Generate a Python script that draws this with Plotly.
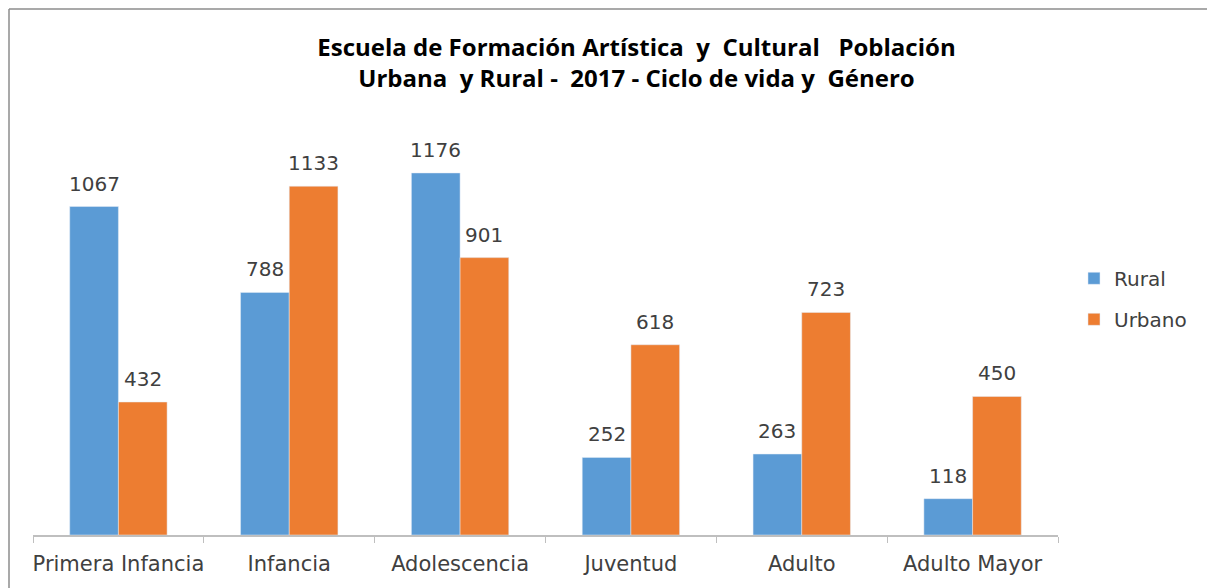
import plotly.graph_objects as go

# data
categorias = ["Primera Infancia", "Infancia", "Adolescencia", "Juventud", "Adulto", "Adulto Mayor"]
rural = [1067, 788, 1176, 252, 263, 118]
urbano = [432, 1133, 901, 618, 723, 450]

AZUL = "#5B9BD5"
NARANJA = "#ED7D31"
TXT = "#404040"
FONT = "DejaVu Sans"

# the page body has an 8px margin, so the figure is a bit smaller than the window
W, H = 1207, 580
ML, MR, MT, MB = 25, 157, 96, 53
BARGAP = 0.43

fig = go.Figure()
fig.add_trace(go.Bar(x=categorias, y=rural, name="Rural", marker_color=AZUL, legendgroup="r"))
fig.add_trace(go.Bar(x=categorias, y=urbano, name="Urbano", marker_color=NARANJA, legendgroup="u"))

# value labels above the bars (a bit higher than plotly's own "outside" text)
ancho_cat = (W - ML - MR) / len(categorias)
medio_bar = ancho_cat * (1 - BARGAP) / 4
for serie, signo in ((rural, -1), (urbano, 1)):
    for cat, v in zip(categorias, serie):
        fig.add_annotation(x=cat, y=v, text=str(v), showarrow=False,
                           xshift=signo * medio_bar, yshift=9, yanchor="bottom",
                           font=dict(size=20, color=TXT, family=FONT))

titulo = ("Escuela de Formación Artística\u00a0 y\u00a0 Cultural\u00a0\u00a0 Población<br>"
          "Urbana\u00a0 y Rural -\u00a0 2017 - Ciclo de vida y\u00a0 Género")

fig.update_layout(
    width=W, height=H,
    margin=dict(l=ML, r=MR, t=MT, b=MB, autoexpand=False),
    paper_bgcolor="white", plot_bgcolor="white",
    barmode="group", bargap=BARGAP, bargroupgap=0,
    font=dict(family=FONT, color=TXT),
    title=dict(text="<b>" + titulo + "</b>", x=0.5207, xanchor="center",
               y=0.918, yanchor="top",
               font=dict(size=24, color="black", family="Open Sans")),
    legend=dict(x=1.0156, y=0.548, xanchor="left", yanchor="middle",
                font=dict(size=20, color=TXT, family=FONT),
                traceorder="grouped", tracegroupgap=12,
                bgcolor="rgba(0,0,0,0)"),
)
fig.update_xaxes(
    showline=True, linecolor="#BFBFBF", linewidth=1.5,
    ticks="outside", tickson="boundaries", ticklen=6, tickcolor="#BFBFBF",
    tickfont=dict(size=21, color=TXT, family=FONT),
    tickangle=0, automargin=False, ticklabelstandoff=9,
    showgrid=False,
)
fig.update_yaxes(range=[0, 1400], visible=False, showgrid=False)

# chart border along the left and top edges of the figure
pw, ph = W - ML - MR, H - MT - MB
bx = (1 - ML) / pw
by = (ph + MT - 1) / ph
fig.add_shape(type="line", xref="paper", yref="paper",
              x0=bx, y0=-0.3, x1=bx, y1=by,
              line=dict(color="#8C8C8C", width=1.5))
fig.add_shape(type="line", xref="paper", yref="paper",
              x0=bx, y0=by, x1=1.3, y1=by,
              line=dict(color="#8C8C8C", width=1.5))

fig.write_html("out.html")
